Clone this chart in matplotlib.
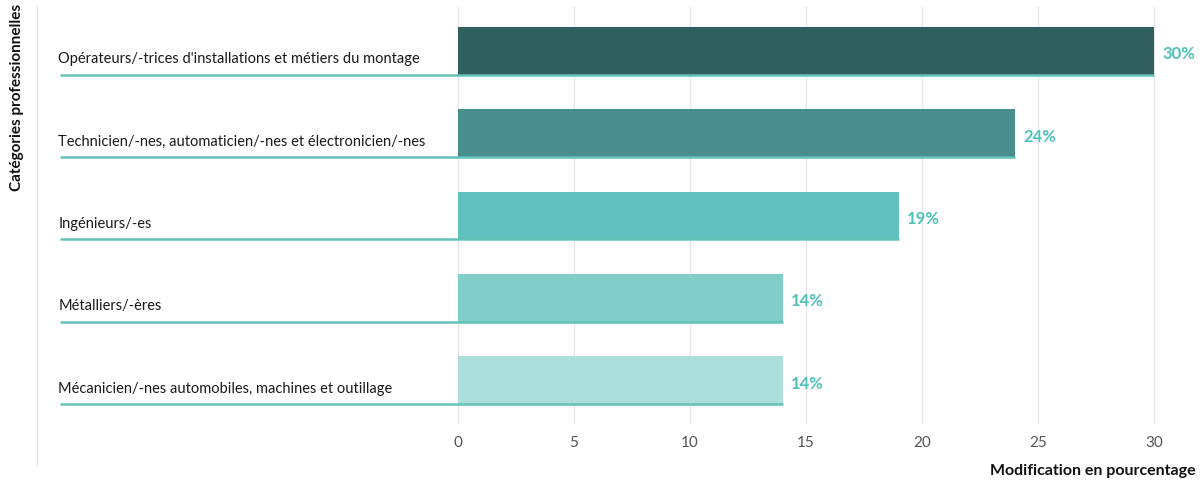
import numpy as np
import matplotlib.pyplot as plt

categories = ["Opérateurs/-trices d'installations et métiers du montage",
              "Technicien/-nes, automaticien/-nes et électronicien/-nes",
              "Ingénieurs/-es",
              "Métalliers/-ères",
              "Mécanicien/-nes automobiles, machines et outillage"]
values = [30, 24, 19, 14, 14]
labels = ['30%', '24%', '19%', '14%', '14%']
colors = ['#2f605f', '#478e8c', '#5fc0bd', '#80cdca', '#acdedb']

plt.rcParams['font.family'] = ['Lato', 'DejaVu Sans']

W, H = 1203, 481
fig = plt.figure(figsize=(W/100, H/100), dpi=100)
# axes in pixels: left 37, right 1200, top 8, bottom 425
ax = fig.add_axes([37/W, 1-425/H, (1200-37)/W, (425-8)/H])

px = 23.2  # pixels per unit
ax.set_xlim((37-458)/px, (1200-458)/px)
ax.set_ylim(4.53, -0.53)

for t in range(0, 31, 5):
    ax.axvline(t, color='#e6e6e6', lw=1, zorder=0)

y = np.arange(len(values))
h = 0.58
ax.barh(y, values, height=h, color=colors, zorder=2)

x0 = (60-458)/px
for i, v in enumerate(values):
    ax.plot([x0, v], [i+h/2, i+h/2], color='#62c2b9', lw=1.8, zorder=3, solid_capstyle='butt')
    ax.text(x0 - 0.08, i+h/2 - 0.15, categories[i], fontsize=10.5, color='#1a1a1a', va='baseline', ha='left')
    ax.text(v + 0.35, i + 0.03, labels[i], fontsize=12, fontweight='bold', color='#4fc1b8', va='center', ha='left')

ax.set_xticks(range(0, 31, 5))
ax.set_yticks([])
ax.tick_params(axis='x', length=0, pad=8, labelsize=11, labelcolor='#555555')
for s in ax.spines.values():
    s.set_visible(False)

fig.add_artist(plt.Line2D([37/W, 37/W], [1-8/H, 1-465/H], color='#dddddd', lw=1))
fig.text(1196/W, 1-471/H, 'Modification en pourcentage', ha='right', va='center', fontsize=11.5, fontweight='bold', color='#111111')
fig.text(17/W, 1-4/H, 'Catégories professionnelles', rotation=90, ha='center', va='top', fontsize=11, fontweight='bold', color='#111111')

fig.savefig('out.png', dpi=100)
